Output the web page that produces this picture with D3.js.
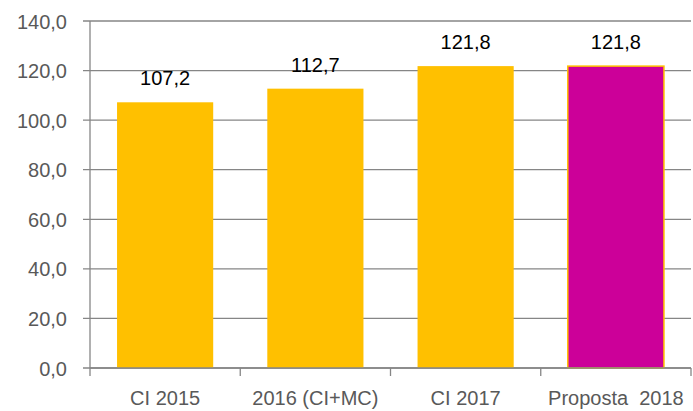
<!DOCTYPE html>
<html>
<head>
<meta charset="utf-8">
<script src="https://cdn.jsdelivr.net/npm/d3@7"></script>
<style>
  body { margin: 0; background: #fff; }
  svg text { font-family: "Liberation Sans", Arial, sans-serif; }
</style>
</head>
<body>
<div id="chart"></div>
<script>
// dati del grafico
var categories = ["CI 2015", "2016 (CI+MC)", "CI 2017", "Proposta  2018"];
var values = [107.2, 112.7, 121.8, 121.8];
var barColors = ["#FFC000", "#FFC000", "#FFC000", "#CC0099"];
var yTicks = [0, 20, 40, 60, 80, 100, 120, 140];

var width = 693, height = 411;
var margin = { top: 21, right: 2, bottom: 43, left: 90 };
var innerW = width - margin.left - margin.right;
var innerH = height - margin.top - margin.bottom;
var fontSize = 20;

var svg = d3.select("#chart").append("svg")
	.attr("width", width).attr("height", height);
var g = svg.append("g")
	.attr("transform", "translate(" + margin.left + "," + margin.top + ")");

var x = d3.scaleBand().domain(categories).range([0, innerW])
	.paddingInner(0.36).paddingOuter(0.18);
var y = d3.scaleLinear().domain([0, 140]).range([innerH, 0]);

var fmt = function(v) { return d3.format(".1f")(v).replace(".", ","); };

// griglia orizzontale
g.selectAll("line.grid").data(yTicks).enter().append("line")
	.attr("class", "grid")
	.attr("x1", -7).attr("x2", innerW)
	.attr("y1", function(d) { return y(d); })
	.attr("y2", function(d) { return y(d); })
	.attr("stroke", "#868686").attr("stroke-width", 1.3);

// barre
g.selectAll("rect.bar").data(values).enter().append("rect")
	.attr("class", "bar")
	.attr("x", function(d, i) { return x(categories[i]); })
	.attr("width", x.bandwidth())
	.attr("y", function(d) { return y(d); })
	.attr("height", function(d) { return innerH - y(d); })
	.attr("fill", function(d, i) { return barColors[i]; })
	.attr("stroke", "#FFC000")
	.attr("stroke-width", function(d, i) { return i == 3 ? 1.5 : 0; });

// etichette valori
g.selectAll("text.val").data(values).enter().append("text")
	.attr("class", "val")
	.attr("x", function(d, i) { return x(categories[i]) + x.bandwidth() / 2; })
	.attr("y", function(d) { return y(d) - 17; })
	.attr("text-anchor", "middle")
	.attr("font-size", fontSize).attr("fill", "#000")
	.text(fmt);

// asse y
var yAxis = g.append("g").call(d3.axisLeft(y).tickValues(yTicks)
	.tickFormat(fmt).tickSize(7).tickPadding(16));
yAxis.select(".domain").attr("stroke", "#868686").attr("stroke-width", 1.3)
	.attr("d", "M0," + innerH + "V0");
yAxis.selectAll(".tick line").remove();
yAxis.selectAll("text").attr("font-size", fontSize).attr("fill", "#595959")
	.attr("dy", "0.35em");

// asse x
var step = innerW / categories.length;
var xAxis = g.append("g").attr("transform", "translate(0," + innerH + ")");
xAxis.append("line").attr("x1", 0).attr("x2", innerW)
	.attr("stroke", "#868686").attr("stroke-width", 1.3);
xAxis.selectAll("line.tk").data(d3.range(categories.length + 1)).enter()
	.append("line").attr("class", "tk")
	.attr("x1", function(d) { return d * step; })
	.attr("x2", function(d) { return d * step; })
	.attr("y1", 0).attr("y2", 8)
	.attr("stroke", "#868686").attr("stroke-width", 1.3);
xAxis.selectAll("text").data(categories).enter().append("text")
	.attr("x", function(d) { return x(d) + x.bandwidth() / 2; })
	.attr("y", 37)
	.attr("text-anchor", "middle")
	.attr("font-size", fontSize).attr("fill", "#595959")
	.style("white-space", "pre")
	.text(function(d) { return d; });
</script>
</body>
</html>
